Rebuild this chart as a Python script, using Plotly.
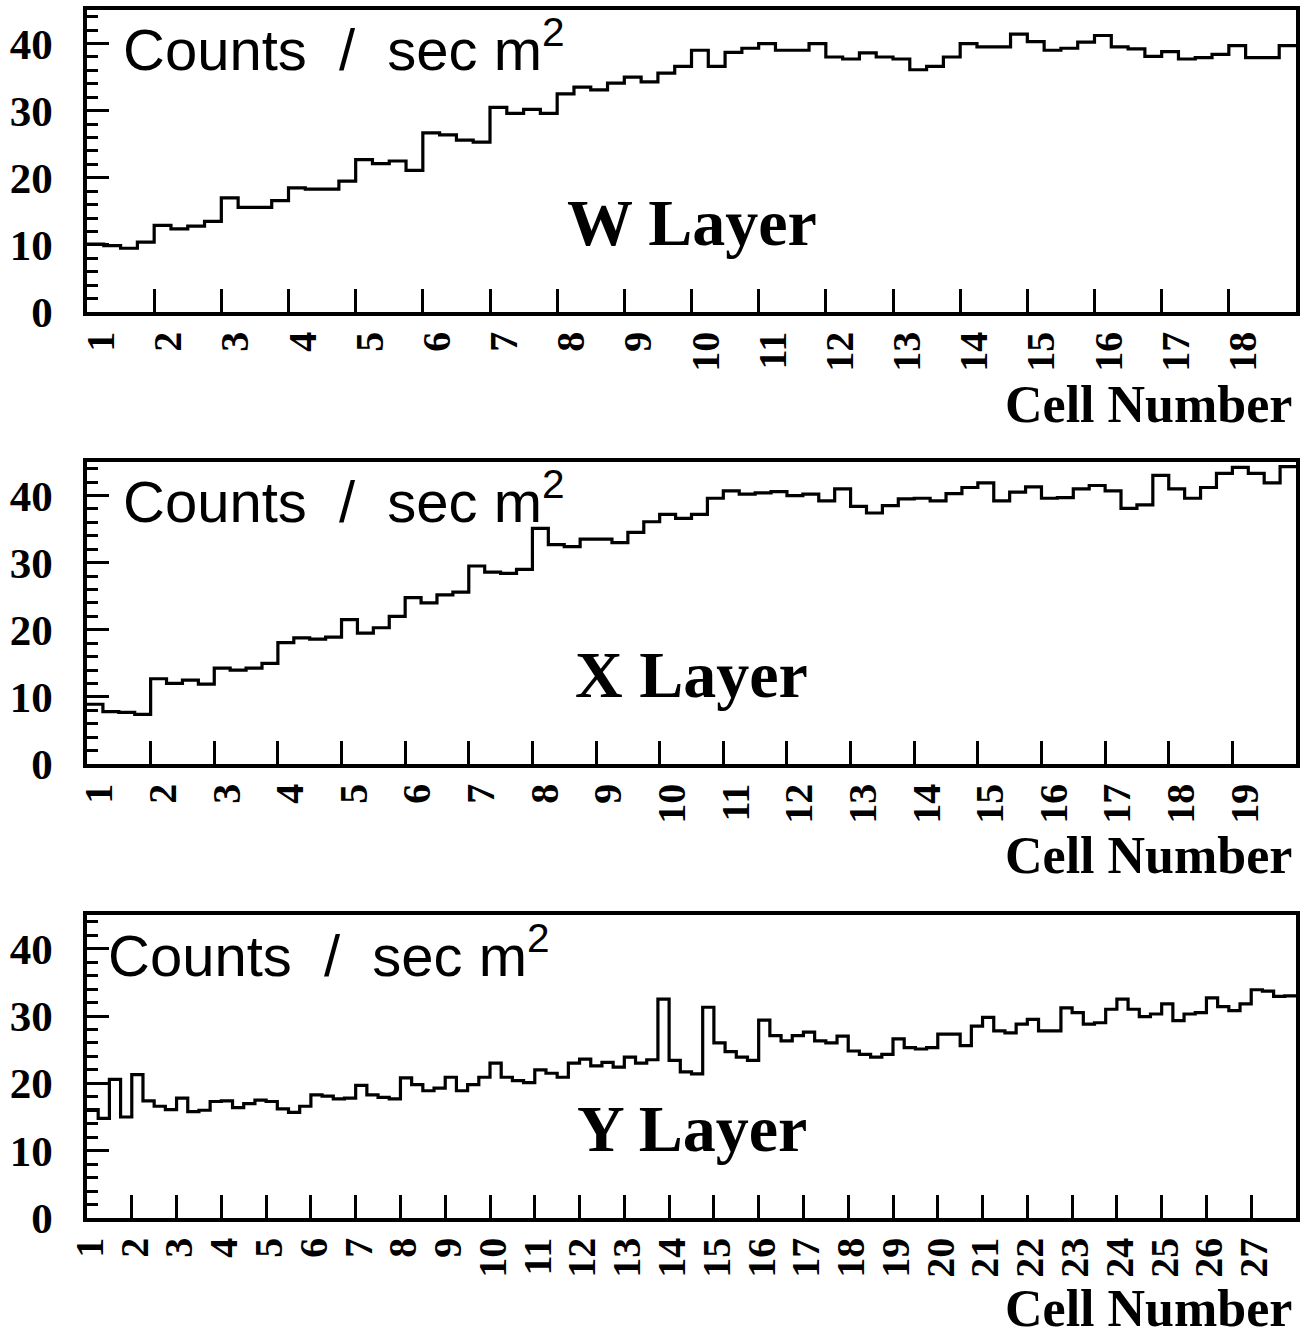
import numpy as np
import plotly.graph_objects as go

# ---------------- data (counts / sec m^2, 4 bins per cell) ----------------
W_VALUES = [
    10.1, 9.9, 9.5, 10.4,
    12.9, 12.4, 12.8, 13.5,
    17.0, 15.6, 15.6, 16.6,
    18.5, 18.3, 18.3, 19.5,
    22.7, 22.1, 22.5, 21.1,
    26.7, 26.4, 25.6, 25.3,
    30.5, 29.6, 30.2, 29.6,
    32.5, 33.5, 33.1, 34.1,
    35.0, 34.3, 35.6, 36.6,
    39.0, 36.6, 38.7, 39.3,
    40.0, 39.0, 39.0, 40.0,
    38.0, 37.7, 38.6, 38.0,
    37.7, 36.1, 36.6, 38.0,
    40.0, 39.5, 39.5, 41.4,
    40.3, 39.0, 39.3, 40.2,
    41.2, 39.5, 39.2, 38.1,
    38.8, 37.7, 37.9, 38.4,
    39.7, 37.9, 37.9, 39.7,
]

X_VALUES = [
    8.9, 7.8, 7.7, 7.4,
    12.7, 12.0, 12.5, 11.9,
    14.3, 14.0, 14.3, 15.0,
    18.1, 18.8, 18.6, 18.9,
    21.5, 19.5, 20.3, 22.0,
    24.8, 24.0, 25.2, 25.6,
    29.5, 28.6, 28.4, 29.0,
    35.1, 32.7, 32.4, 33.5,
    33.5, 33.0, 34.5, 36.1,
    37.2, 36.6, 37.2, 39.6,
    40.7, 40.2, 40.4, 40.6,
    40.0, 40.2, 39.2, 41.0,
    38.4, 37.4, 38.5, 39.5,
    39.6, 39.2, 40.3, 41.2,
    41.9, 39.2, 40.5, 41.3,
    39.6, 39.7, 41.0, 41.5,
    40.7, 38.1, 38.6, 43.0,
    41.0, 39.6, 41.2, 43.3,
    44.2, 43.3, 41.9, 44.3,
]

Y_VALUES = [
    16.1, 14.8, 20.6, 15.0,
    21.3, 17.4, 16.6, 16.1,
    17.8, 15.8, 16.0, 17.3,
    17.4, 16.4, 17.0, 17.5,
    17.3, 16.2, 15.7, 16.6,
    18.3, 18.1, 17.7, 17.8,
    19.7, 18.3, 17.9, 17.7,
    20.8, 19.8, 18.9, 19.3,
    20.9, 18.9, 19.8, 20.9,
    23.0, 20.9, 20.4, 20.1,
    22.0, 21.5, 20.9, 23.0,
    23.6, 22.6, 23.1, 22.4,
    23.9, 23.0, 23.5, 32.5,
    23.4, 21.7, 21.4, 31.3,
    26.0, 24.7, 23.9, 23.4,
    29.4, 27.1, 26.3, 27.1,
    27.6, 26.3, 26.0, 27.0,
    24.8, 24.3, 23.9, 24.3,
    26.6, 25.3, 25.1, 25.3,
    27.3, 27.3, 25.6, 28.5,
    29.8, 27.8, 27.5, 28.8,
    29.5, 27.8, 27.8, 31.2,
    30.5, 28.8, 29.0, 31.0,
    32.5, 31.0, 29.9, 30.3,
    31.8, 29.3, 30.3, 30.5,
    32.7, 31.4, 30.8, 31.8,
    33.9, 33.7, 32.9, 33.0,
]

W_CELLS = [str(i) for i in range(1, 19)]
X_CELLS = [str(i) for i in range(1, 20)]
Y_CELLS = [str(i) for i in range(1, 28)]
LAYER_NAMES = ["W Layer", "X Layer", "Y Layer"]
Y_TICKS = [0, 10, 20, 30, 40]
UNIT_TEXT = "Counts  /  sec m<sup>2</sup>"
X_TITLE = "Cell Number"
BINS_PER_CELL = 4

# ---------------- layout geometry ----------------
W_PX, H_PX = 1313, 1337
X0_PX, X1_PX = 87, 1296
PANEL_PX = [(10, 312), (462, 764), (915, 1218)]   # (top, bottom) of frames

SERIF = "Liberation Serif"
SANS = "Liberation Sans"

fig = go.Figure()

panels = [
    (W_VALUES, W_CELLS, 0.881, 0.028, -0.305),
    (X_VALUES, X_CELLS, 0.881, 0.028, -0.302),
    (Y_VALUES, Y_CELLS, 0.878, 0.016, -0.298),
]

layout = dict(
    width=W_PX, height=H_PX,
    margin=dict(l=0, r=0, t=0, b=0, autoexpand=False),
    paper_bgcolor="white", plot_bgcolor="white",
    showlegend=False,
    annotations=[],
)

for k, (vals, cells, unit_y, unit_x, title_y) in enumerate(panels):
    sfx = "" if k == 0 else str(k + 1)
    n_cells = len(cells)
    vals = np.asarray(vals, dtype=float)
    edges = 1 + np.arange(len(vals) + 1) / BINS_PER_CELL
    ys = np.append(vals, vals[-1])
    fig.add_trace(go.Scatter(
        x=edges, y=ys, mode="lines", line=dict(color="black", width=3.2, shape="hv"),
        xaxis="x" + sfx, yaxis="y" + sfx, hoverinfo="skip",
    ))

    top, bot = PANEL_PX[k]
    cell_px = (X1_PX - X0_PX) / n_cells
    label_pos = [i + 1 + 0.5 - 19.5 / cell_px for i in range(n_cells)]
    boundaries = list(range(2, n_cells + 1))

    layout["xaxis" + sfx] = dict(
        domain=[X0_PX / W_PX, X1_PX / W_PX],
        anchor="y" + sfx,
        range=[1, n_cells + 1],
        automargin=False,
        showgrid=False, zeroline=False,
        showline=True, linecolor="black", linewidth=3.5, mirror=True,
        tickmode="array", tickvals=label_pos, ticktext=cells,
        ticks="", tickangle=-90,
        tickfont=dict(family=SERIF, size=40, color="black", weight="bold"),
        ticklabelstandoff=0,
        minor=dict(tickmode="array", tickvals=boundaries, ticks="inside",
                   ticklen=23, tickwidth=3, tickcolor="black", showgrid=False),
        fixedrange=True,
    )
    layout["yaxis" + sfx] = dict(
        domain=[1 - bot / H_PX, 1 - top / H_PX],
        anchor="x" + sfx,
        range=[0, 45],
        automargin=False,
        showgrid=False, zeroline=False,
        showline=True, linecolor="black", linewidth=3.5, mirror=True,
        tickmode="array", tickvals=Y_TICKS,
        ticks="inside", ticklen=22, tickwidth=3, tickcolor="black",
        tickfont=dict(family=SERIF, size=43, color="black", weight="bold"),
        ticklabelstandoff=22,
        minor=dict(tick0=0, dtick=2, ticks="inside", ticklen=11, tickwidth=3,
                   tickcolor="black", showgrid=False),
        fixedrange=True,
    )

    xd = "x" + sfx + " domain"
    yd = "y" + sfx + " domain"
    layout["annotations"] += [
        dict(text=UNIT_TEXT, xref=xd, yref=yd, x=unit_x, y=unit_y,
             xanchor="left", yanchor="middle", showarrow=False,
             font=dict(family=SANS, size=58, color="black")),
        dict(text=LAYER_NAMES[k], xref=xd, yref=yd, x=0.5, y=0.297,
             xanchor="center", yanchor="middle", showarrow=False,
             font=dict(family=SERIF, size=66, color="black", weight="bold")),
        dict(text=X_TITLE, xref=xd, yref=yd, x=0.998, y=title_y,
             xanchor="right", yanchor="middle", showarrow=False,
             font=dict(family=SERIF, size=52, color="black", weight="bold")),
    ]

fig.update_layout(**layout)
fig.write_html("out.html")
